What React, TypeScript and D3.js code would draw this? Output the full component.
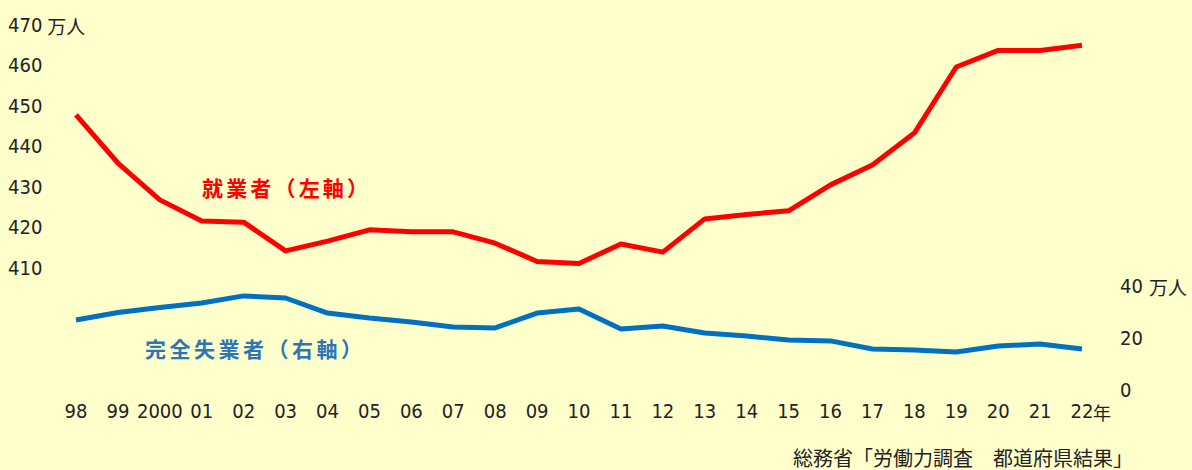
import React from 'react';
import * as d3 from 'd3';

const years = ['98', '99', '2000', '01', '02', '03', '04', '05', '06', '07', '08', '09', '10',
  '11', '12', '13', '14', '15', '16', '17', '18', '19', '20', '21', '22'];
// 就業者 (万人, 左軸)
const employed = [447.7, 435.8, 426.7, 421.5, 421.2, 414.1, 416.5, 419.3, 418.8, 418.8, 416.0, 411.5, 411.0,
  415.8, 413.8, 422.0, 423.1, 424.0, 430.4, 435.3, 443.2, 459.5, 463.6, 463.6, 464.9];
// 完全失業者 (万人, 右軸)
const unemployed = [26.7, 29.6, 31.5, 33.3, 36.0, 35.2, 29.4, 27.5, 26.0, 24.0, 23.7, 29.4, 31.0,
  23.3, 24.4, 21.7, 20.6, 19.0, 18.7, 15.6, 15.2, 14.4, 16.7, 17.5, 15.6];
const leftTicks = [410, 420, 430, 440, 450, 460, 470];
const rightTicks = [0, 20, 40];

const W = 1192;
const H = 470;
const numFont = '"DejaVu Sans Condensed", "Liberation Sans Narrow", sans-serif';
const jpFont = '"Noto Sans CJK JP", sans-serif';

const App = () => {
  const x = d3.scalePoint<string>().domain(years).range([76, 1082]);
  const yL = d3.scaleLinear().domain([410, 470]).range([267.5, 24.5]);
  const yR = d3.scaleLinear().domain([0, 40]).range([389.5, 285.5]);

  const lineL = d3.line<number>()
    .x((_, i) => x(years[i]) as number)
    .y(d => yL(d));
  const lineR = d3.line<number>()
    .x((_, i) => x(years[i]) as number)
    .y(d => yR(d));

  return (
    <svg width={W} height={H} style={{ position: 'absolute', left: 0, top: 0 }}>
      <rect width={W} height={H} fill="#ffffcc" />

      {leftTicks.map(t => (
        <text key={t} x={8} y={yL(t)} dominantBaseline="central" fontFamily={numFont}
          fontSize={20} fill="#222">
          {t}
          {t === 470 && <tspan fontFamily={jpFont} fontSize={19} dx={5}>万人</tspan>}
        </text>
      ))}

      {rightTicks.map(t => (
        <text key={t} x={1120} y={yR(t)} dominantBaseline="central" fontFamily={numFont}
          fontSize={20} fill="#222">
          {t}
          {t === 40 && <tspan fontFamily={jpFont} fontSize={19} dx={6}>万人</tspan>}
        </text>
      ))}

      {years.map(yr => (
        <text key={yr} x={x(yr)} y={411} textAnchor="middle" dominantBaseline="central"
          fontFamily={numFont} fontSize={20} fill="#222">
          {yr}
        </text>
      ))}
      <text x={(x('22') as number) + 11} y={412} dominantBaseline="central" fontFamily={jpFont}
        fontSize={18} fill="#222">年</text>

      <path d={lineL(employed) ?? ''} fill="none" stroke="#ff0000" strokeWidth={5}
        strokeLinejoin="round" />
      <path d={lineR(unemployed) ?? ''} fill="none" stroke="#0070c0" strokeWidth={5}
        strokeLinejoin="round" />

      <text x={202} y={187} dominantBaseline="central" fontFamily={jpFont} fontSize={21}
        fontWeight="bold" fill="#ff0000" textLength={166} lengthAdjust="spacing">就業者（左軸）</text>
      <text x={145} y={348} dominantBaseline="central" fontFamily={jpFont} fontSize={21}
        fontWeight="bold" fill="#2e75b6" textLength={217} lengthAdjust="spacing">完全失業者（右軸）</text>

      <text x={793} y={457} dominantBaseline="central" fontFamily={jpFont} fontSize={20}
        fill="#222">総務省「労働力調査　都道府県結果」</text>
    </svg>
  );
};

export default App;
